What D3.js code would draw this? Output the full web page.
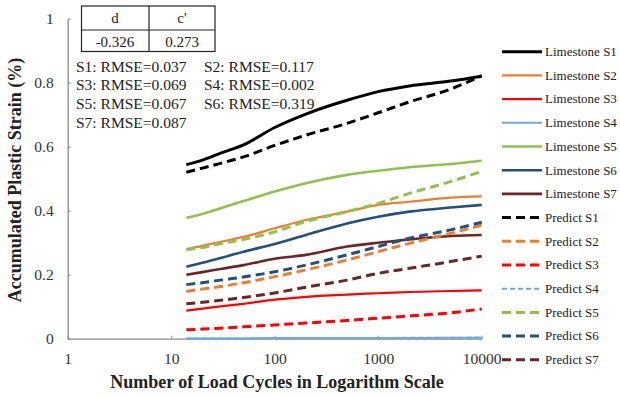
<!DOCTYPE html>
<html>
<head>
<meta charset="utf-8">
<script src="https://cdn.jsdelivr.net/npm/d3@7"></script>
<style>
  body { margin: 0; background: #fff; }
</style>
</head>
<body>
<svg id="chart" width="620" height="398"></svg>
<script>
const FONT = '"Liberation Serif", "Times New Roman", serif';

// load cycles where values were read
const cycles = [14, 20, 30, 50, 100, 200, 500, 1000, 2000, 5000, 10000];

// measured strain (%)
const limestoneS1 = [0.544, 0.558, 0.580, 0.606, 0.660, 0.702, 0.745, 0.772, 0.790, 0.805, 0.820];
const limestoneS2 = [0.280, 0.290, 0.303, 0.318, 0.345, 0.371, 0.397, 0.418, 0.428, 0.441, 0.445];
const limestoneS3 = [0.088, 0.094, 0.101, 0.109, 0.122, 0.131, 0.138, 0.142, 0.146, 0.149, 0.151];
const limestoneS4 = [0.001, 0.001, 0.001, 0.001, 0.002, 0.002, 0.002, 0.002, 0.002, 0.003, 0.003];
const limestoneS5 = [0.378, 0.390, 0.408, 0.430, 0.460, 0.486, 0.512, 0.525, 0.536, 0.546, 0.556];
const limestoneS6 = [0.225, 0.237, 0.252, 0.272, 0.296, 0.324, 0.360, 0.381, 0.397, 0.410, 0.418];
const limestoneS7 = [0.200, 0.208, 0.218, 0.230, 0.250, 0.262, 0.288, 0.300, 0.310, 0.321, 0.324];

// predicted strain (%)
const predictS1 = [0.520, 0.533, 0.548, 0.568, 0.604, 0.636, 0.673, 0.706, 0.740, 0.780, 0.822];
const predictS2 = [0.148, 0.155, 0.163, 0.175, 0.194, 0.215, 0.246, 0.272, 0.298, 0.329, 0.355];
const predictS3 = [0.028, 0.030, 0.033, 0.037, 0.043, 0.049, 0.057, 0.064, 0.071, 0.081, 0.093];
const predictS4 = [0.001, 0.001, 0.001, 0.001, 0.001, 0.002, 0.002, 0.002, 0.003, 0.003, 0.004];
const predictS5 = [0.278, 0.285, 0.297, 0.310, 0.334, 0.366, 0.397, 0.423, 0.454, 0.491, 0.523];
const predictS6 = [0.169, 0.175, 0.183, 0.193, 0.209, 0.230, 0.262, 0.288, 0.314, 0.340, 0.364];
const predictS7 = [0.109, 0.114, 0.120, 0.129, 0.143, 0.161, 0.183, 0.204, 0.220, 0.241, 0.258];

const xTicks = [1, 10, 100, 1000, 10000];
const yTicks = [0, 0.2, 0.4, 0.6, 0.8, 1];

const tableHead = ['d', "c'"];
const tableVals = ['-0.326', '0.273'];
const rmseLabels = ['S1: RMSE=0.037', 'S2: RMSE=0.117', 'S3: RMSE=0.069', 'S4: RMSE=0.002',
                    'S5: RMSE=0.067', 'S6: RMSE=0.319', 'S7: RMSE=0.087'];

const colors = ['#000000', '#ed7d31', '#ff0000', '#70a8e0', '#92c050', '#244f7f', '#6b2525'];

const series = [
    {name: 'Limestone S1', values: limestoneS1, color: colors[0], dash: null, width: 3},
    {name: 'Limestone S2', values: limestoneS2, color: colors[1], dash: null, width: 2.2},
    {name: 'Limestone S3', values: limestoneS3, color: colors[2], dash: null, width: 2.2},
    {name: 'Limestone S4', values: limestoneS4, color: colors[3], dash: null, width: 2},
    {name: 'Limestone S5', values: limestoneS5, color: colors[4], dash: null, width: 2.6},
    {name: 'Limestone S6', values: limestoneS6, color: colors[5], dash: null, width: 2.6},
    {name: 'Limestone S7', values: limestoneS7, color: colors[6], dash: null, width: 2.6},
    {name: 'Predict S1', values: predictS1, color: colors[0], dash: '9,5', width: 3},
    {name: 'Predict S2', values: predictS2, color: colors[1], dash: '9,5', width: 3},
    {name: 'Predict S3', values: predictS3, color: colors[2], dash: '9,5', width: 3},
    {name: 'Predict S4', values: predictS4, color: colors[3], dash: '5,3', width: 2},
    {name: 'Predict S5', values: predictS5, color: colors[4], dash: '9,5', width: 3},
    {name: 'Predict S6', values: predictS6, color: colors[5], dash: '9,5', width: 3},
    {name: 'Predict S7', values: predictS7, color: colors[6], dash: '9,5', width: 3}
];

const svg = d3.select('#chart');

const xScale = d3.scaleLog()
    .domain([1, 10000])
    .range([67.7, 481.7]);

const yScale = d3.scaleLinear()
    .domain([0, 1])
    .range([338.7, 18.7]);

// axes
const xAxis = svg.append('g')
    .attr('transform', `translate(0,${yScale(0)})`)
    .call(d3.axisBottom(xScale).tickValues(xTicks).tickFormat(d3.format('d')).tickSizeInner(-3).tickSizeOuter(0).tickPadding(14));
xAxis.attr('font-family', FONT).attr('font-size', 15.5);
xAxis.select('.domain').attr('stroke', '#8c8c8c').attr('stroke-width', 1.3);
xAxis.selectAll('.tick line').attr('stroke', '#8c8c8c');
xAxis.selectAll('.tick text').attr('fill', '#333');

const yAxis = svg.append('g')
    .attr('transform', `translate(${xScale(1)},0)`)
    .call(d3.axisLeft(yScale).tickValues(yTicks).tickFormat(d => d3.format('~g')(d)).tickSizeInner(-3).tickSizeOuter(0).tickPadding(14));
yAxis.attr('font-family', FONT).attr('font-size', 15.5);
yAxis.select('.domain').attr('stroke', '#8c8c8c').attr('stroke-width', 1.3);
yAxis.selectAll('.tick line').attr('stroke', '#8c8c8c');
yAxis.selectAll('.tick text').attr('fill', '#333');

// axis titles
svg.append('text')
    .attr('x', 277)
    .attr('y', 388)
    .attr('text-anchor', 'middle')
    .attr('font-family', FONT)
    .attr('font-size', 18)
    .attr('font-weight', 'bold')
    .attr('fill', '#222')
    .text('Number of Load Cycles in Logarithm Scale');

svg.append('text')
    .attr('transform', 'translate(21,180) rotate(-90)')
    .attr('text-anchor', 'middle')
    .attr('font-family', FONT)
    .attr('font-size', 18)
    .attr('font-weight', 'bold')
    .attr('fill', '#222')
    .text('Accumulated Plastic Strain (%)');

// lines
const line = d3.line()
    .x((d, i) => xScale(cycles[i]))
    .y(d => yScale(d))
    .curve(d3.curveMonotoneX);

const solid = series.filter(s => !s.dash);
const dashed = series.filter(s => s.dash);
for (const s of solid.concat(dashed)) {
    svg.append('path')
        .attr('d', line(s.values))
        .attr('fill', 'none')
        .attr('stroke', s.color)
        .attr('stroke-width', s.width)
        .attr('stroke-dasharray', s.dash);
}

// parameter table
const tbl = svg.append('g').attr('font-family', FONT);
tbl.append('rect')
    .attr('x', 81.5).attr('y', 6).attr('width', 133.5).attr('height', 45.5)
    .attr('fill', 'white').attr('stroke', '#222').attr('stroke-width', 1.2);
tbl.append('line').attr('x1', 149).attr('x2', 149).attr('y1', 6).attr('y2', 51.5)
    .attr('stroke', '#222').attr('stroke-width', 1.2);
tbl.append('line').attr('x1', 81.5).attr('x2', 215).attr('y1', 30).attr('y2', 30)
    .attr('stroke', '#222').attr('stroke-width', 1.2);
tableHead.forEach((t, i) => {
    tbl.append('text').attr('x', 115 + i * 67).attr('y', 23).attr('text-anchor', 'middle')
        .attr('font-size', 15).attr('fill', '#222').text(t);
    tbl.append('text').attr('x', 115 + i * 67).attr('y', 47).attr('text-anchor', 'middle')
        .attr('font-size', 15).attr('fill', '#222').text(tableVals[i]);
});

// RMSE notes
rmseLabels.forEach((t, i) => {
    svg.append('text')
        .attr('x', i % 2 === 0 ? 76 : 204)
        .attr('y', 71.5 + Math.floor(i / 2) * 18.7)
        .attr('font-family', FONT)
        .attr('font-size', 15.5)
        .attr('fill', '#222')
        .text(t);
});

// legend
const legend = svg.append('g').attr('font-family', FONT);
series.forEach((s, i) => {
    const y = 51.7 + i * 23.7;
    legend.append('line')
        .attr('x1', 502).attr('x2', 542)
        .attr('y1', y).attr('y2', y)
        .attr('stroke', s.color)
        .attr('stroke-width', s.width)
        .attr('stroke-dasharray', s.dash);
    legend.append('text')
        .attr('x', 545).attr('y', y + 4.3)
        .attr('font-size', 13)
        .attr('fill', '#222')
        .text(s.name);
});
</script>
</body>
</html>
